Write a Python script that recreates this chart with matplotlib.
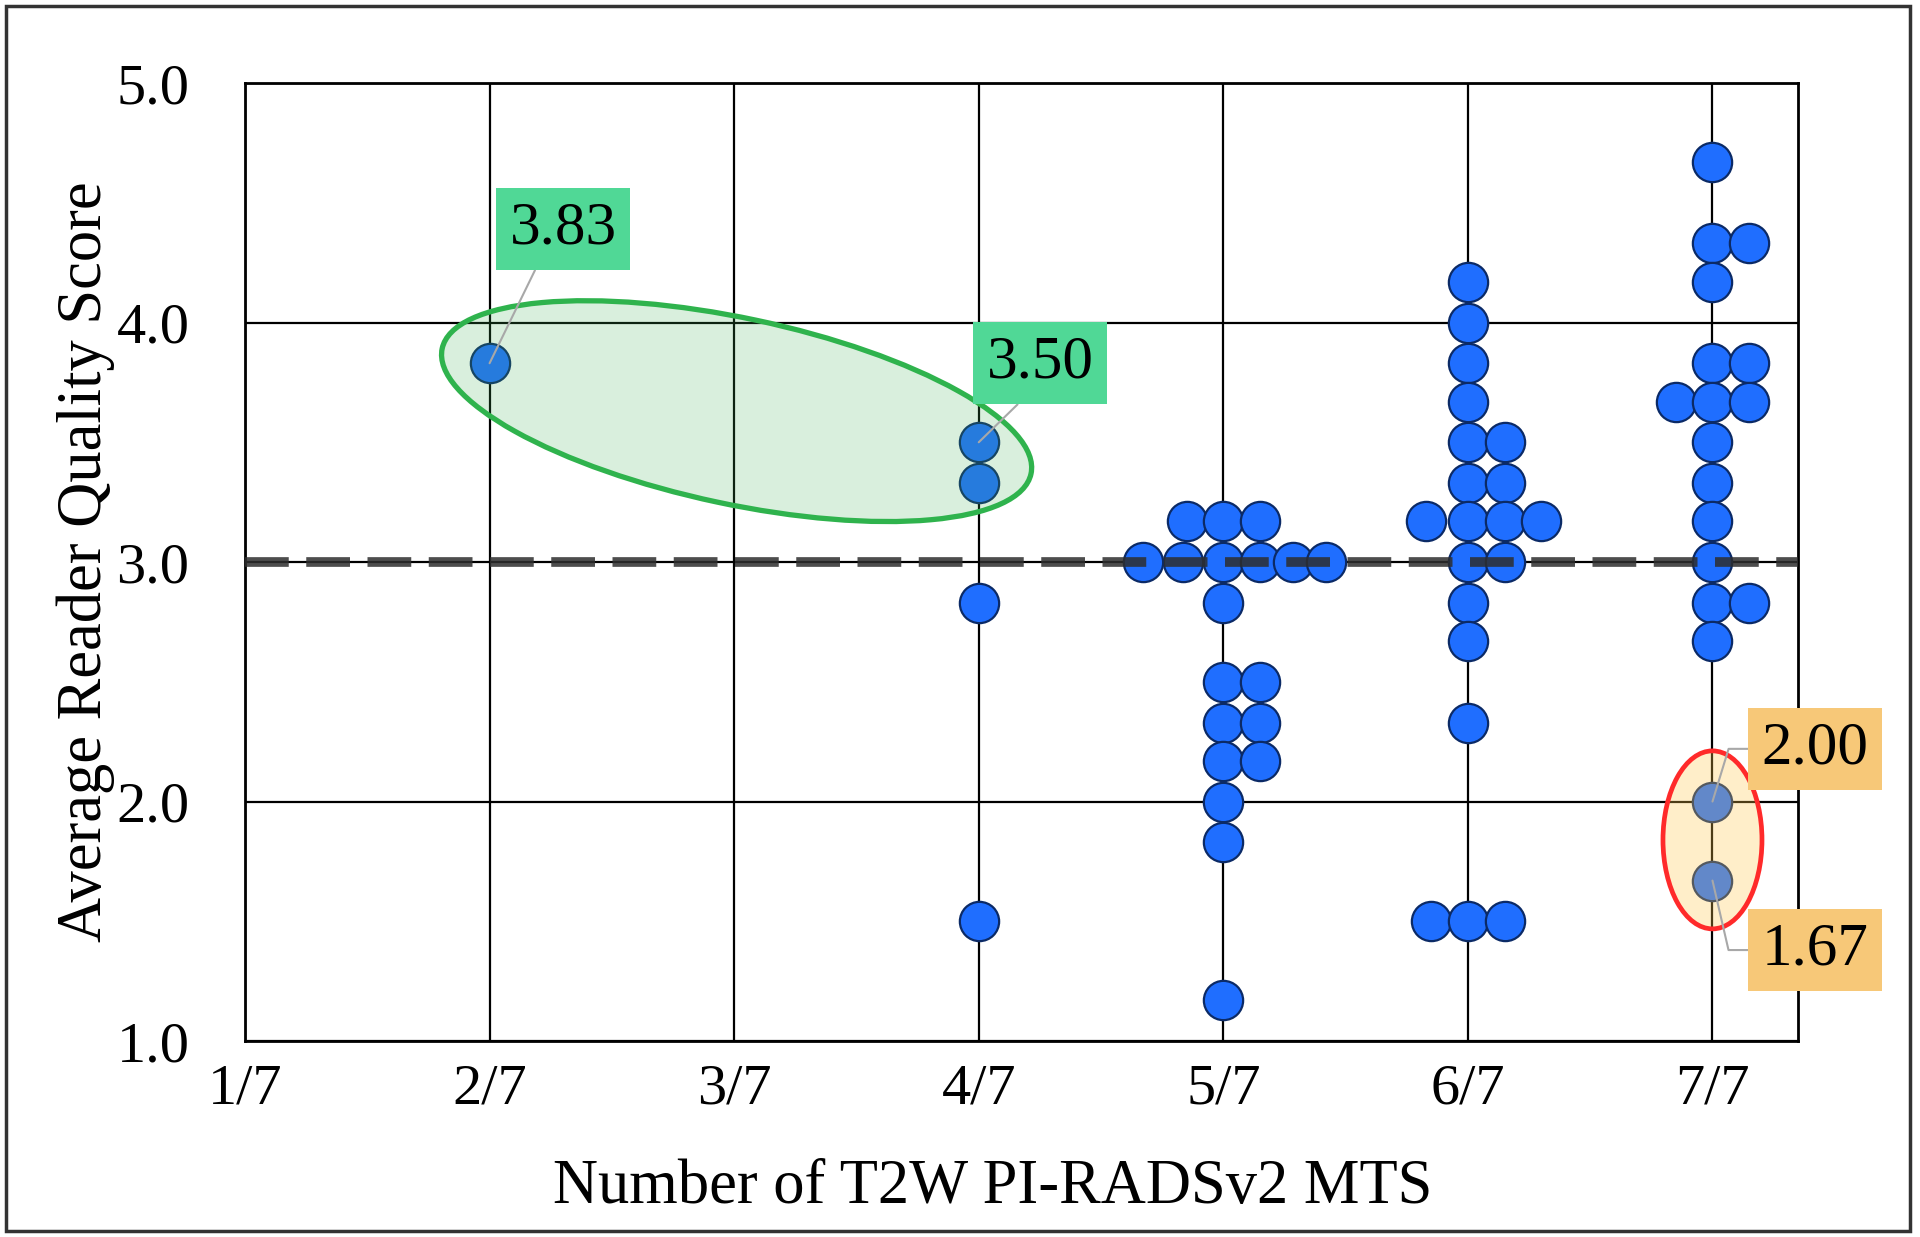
import numpy as np
import matplotlib
matplotlib.use("Agg")
import matplotlib.pyplot as plt
import matplotlib.transforms as mtransforms
from matplotlib.patches import Ellipse, Rectangle

plt.rcParams['font.family'] = ['Liberation Serif', 'DejaVu Serif']

# Categories on the x axis
categories = ['1/7', '2/7', '3/7', '4/7', '5/7', '6/7', '7/7']
cat_pos = np.arange(1, len(categories) + 1)

# Average reader quality scores per category
scores_2 = [3.83]
scores_4 = [3.50, 3.33, 2.83, 1.50]
scores_5 = [3.17, 3.17, 3.17,
            3.00, 3.00, 3.00, 3.00, 3.00, 3.00,
            2.83, 2.50, 2.50, 2.33, 2.33, 2.17, 2.17, 2.00, 1.83, 1.17]
scores_6 = [4.17, 4.00, 3.83, 3.67, 3.50, 3.50, 3.33, 3.33,
            3.17, 3.17, 3.17, 3.17, 3.00, 3.00, 2.83, 2.67, 2.33,
            1.50, 1.50, 1.50]
scores_7 = [4.67, 4.33, 4.33, 4.17, 3.83, 3.83, 3.67, 3.67, 3.67,
            3.50, 3.33, 3.17, 3.00, 2.83, 2.83, 2.67, 2.00, 1.67]

# swarm slot of each point (side-by-side placement of tied values)
slots_2 = [0]
slots_4 = [0, 0, 0, 0]
slots_5 = [-1, 0, 1,
           -2.2, -1.1, 0, 1, 1.9, 2.8,
           0, 0, 1, 0, 1, 0, 1, 0, 0, 0]
slots_6 = [0, 0, 0, 0, 0, 1, 0, 1,
           -1.15, 0, 1, 2, 0, 1, 0, 0, 0,
           -1, 0, 1]
slots_7 = [0, 0, 1, 0, 0, 1, -1, 0, 1,
           0, 0, 0, 0, 0, 1, 0, 0, 0]

groups = [(2, scores_2, slots_2), (4, scores_4, slots_4), (5, scores_5, slots_5),
          (6, scores_6, slots_6), (7, scores_7, slots_7)]

threshold = 3.0
slot_step = 0.15

fig = plt.figure(figsize=(19.2, 12.37), dpi=100)
ax = fig.add_axes([0.1276, 0.1584, 0.8089, 0.7745])

for cat, ys, sl in groups:
    xs = cat + slot_step * np.array(sl)
    ax.scatter(xs, ys, s=800, color='#1f6eff', edgecolors='#0b2a66',
               linewidths=1.6, zorder=3)

ax.axhline(threshold, color='#2e2e2e', lw=7, alpha=0.85, dashes=(4.5, 1.8), zorder=4)

ax.set_xlim(1, 7.35)
ax.set_ylim(1, 5)
ax.set_xticks(cat_pos)
ax.set_xticklabels(categories)
ax.set_yticks([1, 2, 3, 4, 5])
ax.set_yticklabels(['%.1f' % v for v in [1, 2, 3, 4, 5]])
ax.tick_params(axis='both', length=0, labelsize=42)
ax.tick_params(axis='y', pad=40)
ax.tick_params(axis='x', pad=16)
ax.grid(True, color='black', lw=1.6, zorder=1)
ax.set_axisbelow(True)
for sp in ax.spines.values():
    sp.set_linewidth(2)

ax.set_xlabel('Number of T2W PI-RADSv2 MTS', fontsize=45)
ax.set_ylabel('Average Reader Quality Score', fontsize=45)
ax.xaxis.set_label_coords(0.4817, -0.153)
ax.xaxis.label.set_va('center')
ax.yaxis.set_label_coords(-0.1024, 0.5)
ax.yaxis.label.set_va('center')


def px_ellipse(cx, cy, w_px, h_px, angle, **kw):
    tr = fig.dpi_scale_trans + mtransforms.ScaledTranslation(cx, cy, ax.transData)
    e = Ellipse((0, 0), w_px / fig.dpi, h_px / fig.dpi, angle=angle,
                transform=tr, **kw)
    ax.add_patch(e)


px_ellipse(3.01, 3.63, 602, 186, -12, facecolor=(0.27, 0.70, 0.35, 0.20),
           edgecolor='#2fb34d', lw=3.8, zorder=5)
px_ellipse(7.0, 1.84, 99, 178, 0, facecolor=(1.0, 0.78, 0.31, 0.30),
           edgecolor='#ff2a2a', lw=3.4, zorder=5)

green_box = dict(boxstyle='square,pad=0.22', fc='#50d896', ec='none')
orange_box = dict(boxstyle='square,pad=0.22', fc='#f7c878', ec='none')
lead = dict(arrowstyle='-', color='#a8a8a8', lw=1.5, shrinkA=0, shrinkB=0)

ax.annotate('%.2f' % scores_2[0], xy=(2, scores_2[0]), xytext=(2.30, 4.39),
            ha='center', va='center', fontsize=44, bbox=green_box, zorder=6,
            arrowprops=dict(lead, relpos=(0.3, 0)))
ax.annotate('%.2f' % scores_4[0], xy=(4, scores_4[0]), xytext=(4.25, 3.83),
            ha='center', va='center', fontsize=44, bbox=green_box, zorder=6,
            arrowprops=dict(lead, relpos=(0.42, 0)))
ax.annotate('%.2f' % scores_7[-2], xy=(7, scores_7[-2]), xytext=(7.42, 2.22),
            ha='center', va='center', fontsize=44, bbox=orange_box, zorder=6,
            annotation_clip=False,
            arrowprops=dict(lead, relpos=(0, 0.5),
                            connectionstyle='angle,angleA=0,angleB=73,rad=0'))
ax.annotate('%.2f' % scores_7[-1], xy=(7, scores_7[-1]), xytext=(7.42, 1.38),
            ha='center', va='center', fontsize=44, bbox=orange_box, zorder=6,
            annotation_clip=False,
            arrowprops=dict(lead, relpos=(0, 0.5),
                            connectionstyle='angle,angleA=0,angleB=-77,rad=0'))

# outer border
fig.add_artist(Rectangle((0.003, 0.005), 0.992, 0.99, transform=fig.transFigure,
                         fill=False, edgecolor='#333333', lw=2.5))

fig.savefig('out.png', dpi=100)
